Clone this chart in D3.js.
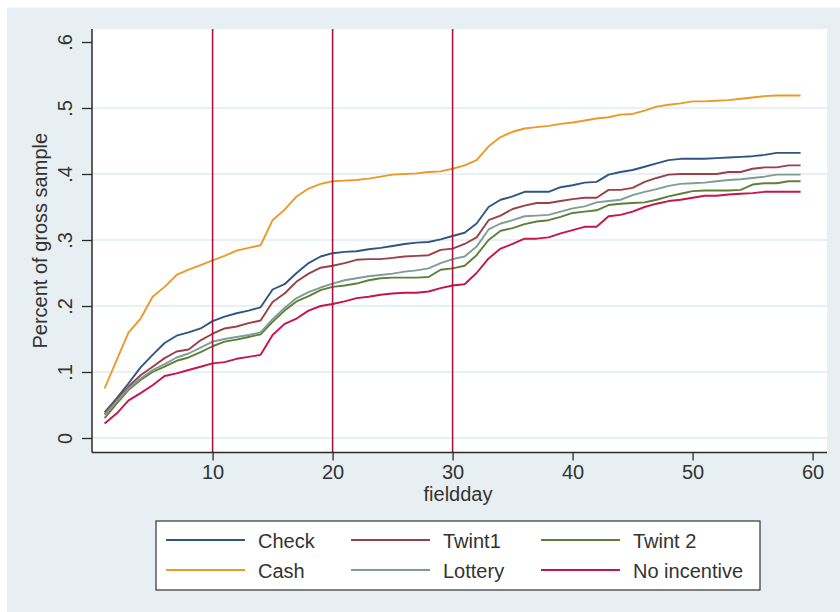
<!DOCTYPE html>
<html>
<head>
<meta charset="utf-8">
<script src="https://cdn.jsdelivr.net/npm/d3@7"></script>
<style>
  body { margin: 0; background: #fff; }
  text { font-family: "Liberation Sans", Arial, sans-serif; fill: #333; }
</style>
</head>
<body>
<div id="chart"></div>
<script>
// fieldday 1..59
const days = d3.range(1, 60);

const check = [0.039, 0.060, 0.083, 0.107, 0.126, 0.144, 0.155, 0.160, 0.166, 0.177,
  0.184, 0.189, 0.193, 0.198, 0.225, 0.233, 0.250, 0.265, 0.275, 0.280,
  0.282, 0.283, 0.286, 0.288, 0.291, 0.294, 0.296, 0.297, 0.301, 0.306,
  0.311, 0.325, 0.350, 0.361, 0.366, 0.373, 0.373, 0.373, 0.380, 0.383,
  0.387, 0.388, 0.399, 0.403, 0.406, 0.411, 0.416, 0.421, 0.423, 0.423,
  0.423, 0.424, 0.425, 0.426, 0.427, 0.429, 0.432, 0.432, 0.432];

const twint1 = [0.036, 0.058, 0.078, 0.095, 0.108, 0.121, 0.131, 0.134, 0.148, 0.158,
  0.166, 0.169, 0.174, 0.178, 0.206, 0.219, 0.237, 0.249, 0.258, 0.261,
  0.265, 0.270, 0.271, 0.271, 0.273, 0.275, 0.276, 0.277, 0.285, 0.287,
  0.294, 0.304, 0.330, 0.337, 0.347, 0.352, 0.356, 0.356, 0.359, 0.362,
  0.364, 0.364, 0.376, 0.376, 0.379, 0.388, 0.394, 0.399, 0.400, 0.400,
  0.400, 0.400, 0.403, 0.403, 0.408, 0.410, 0.410, 0.413, 0.413];

const twint2 = [0.030, 0.052, 0.073, 0.088, 0.100, 0.108, 0.117, 0.122, 0.130, 0.139,
  0.146, 0.149, 0.153, 0.157, 0.176, 0.193, 0.207, 0.215, 0.224, 0.229,
  0.231, 0.234, 0.239, 0.242, 0.243, 0.243, 0.243, 0.244, 0.255, 0.257,
  0.261, 0.277, 0.300, 0.314, 0.318, 0.324, 0.328, 0.330, 0.335, 0.341,
  0.343, 0.345, 0.353, 0.355, 0.356, 0.357, 0.361, 0.366, 0.370, 0.374,
  0.375, 0.375, 0.375, 0.376, 0.384, 0.386, 0.386, 0.389, 0.389];

const cash = [0.075, 0.118, 0.160, 0.181, 0.214, 0.229, 0.247, 0.255, 0.262, 0.269,
  0.276, 0.284, 0.288, 0.292, 0.330, 0.346, 0.366, 0.378, 0.385, 0.389,
  0.390, 0.391, 0.393, 0.396, 0.399, 0.400, 0.401, 0.403, 0.404, 0.408,
  0.413, 0.421, 0.442, 0.456, 0.464, 0.469, 0.471, 0.473, 0.476, 0.478,
  0.481, 0.484, 0.486, 0.490, 0.491, 0.496, 0.502, 0.505, 0.507, 0.510,
  0.510, 0.511, 0.512, 0.514, 0.516, 0.518, 0.519, 0.519, 0.519];

const lottery = [0.035, 0.055, 0.075, 0.090, 0.103, 0.112, 0.122, 0.128, 0.137, 0.146,
  0.150, 0.153, 0.156, 0.160, 0.180, 0.197, 0.212, 0.221, 0.228, 0.234,
  0.239, 0.242, 0.245, 0.247, 0.249, 0.252, 0.254, 0.257, 0.265, 0.271,
  0.275, 0.290, 0.316, 0.325, 0.330, 0.336, 0.337, 0.338, 0.343, 0.348,
  0.351, 0.357, 0.359, 0.361, 0.368, 0.373, 0.377, 0.382, 0.385, 0.386,
  0.387, 0.389, 0.391, 0.392, 0.394, 0.396, 0.399, 0.399, 0.399];

const noIncentive = [0.022, 0.037, 0.057, 0.068, 0.080, 0.094, 0.098, 0.103, 0.108, 0.113,
  0.115, 0.120, 0.123, 0.126, 0.156, 0.173, 0.181, 0.193, 0.200, 0.203,
  0.207, 0.212, 0.214, 0.217, 0.219, 0.220, 0.220, 0.222, 0.227, 0.231,
  0.233, 0.250, 0.272, 0.287, 0.294, 0.302, 0.302, 0.304, 0.310, 0.315,
  0.320, 0.320, 0.336, 0.338, 0.343, 0.350, 0.355, 0.359, 0.361, 0.364,
  0.367, 0.367, 0.369, 0.370, 0.371, 0.373, 0.373, 0.373, 0.373];

const seriesNames = ["Check", "Twint1", "Twint 2", "Cash", "Lottery", "No incentive"];
const seriesValues = [check, twint1, twint2, cash, lottery, noIncentive];
const seriesColors = ["#2f5680", "#9a4048", "#5e7f38", "#eb9a2a", "#7e9d94", "#c4164a"];

const xTicks = [10, 20, 30, 40, 50, 60];
const yTicks = [0, 0.1, 0.2, 0.3, 0.4, 0.5, 0.6];
const yTickLabels = ["0", ".1", ".2", ".3", ".4", ".5", ".6"];
const markerDays = [10, 20, 30];

const W = 840, H = 612;
const plot = { left: 92, right: 827, top: 29, bottom: 452.5 };

const svg = d3.select("#chart").append("svg")
    .attr("width", W)
    .attr("height", H);

// outer background
svg.append("rect")
    .attr("x", 7).attr("y", 7.5)
    .attr("width", W - 7).attr("height", H - 7.5)
    .attr("fill", "#e8eff2");

// plot region
svg.append("rect")
    .attr("x", plot.left).attr("y", plot.top)
    .attr("width", plot.right - plot.left)
    .attr("height", plot.bottom - plot.top)
    .attr("fill", "#fff");

const x = d3.scaleLinear().domain([0, 61.2]).range([plot.left + 0.6, plot.right]);
const y = d3.scaleLinear().domain([0, 0.6]).range([438, 42]);

// grid lines
svg.append("g")
    .selectAll("line")
    .data(yTicks.filter(d => d < 0.6))
    .join("line")
    .attr("x1", plot.left).attr("x2", plot.right)
    .attr("y1", d => y(d)).attr("y2", d => y(d))
    .attr("stroke", "#e1ebef")
    .attr("stroke-width", 1.3);

// series
const line = d3.line()
    .x((d, i) => x(days[i]))
    .y(d => y(d));

svg.append("g")
    .selectAll("path")
    .data(seriesValues)
    .join("path")
    .attr("d", d => line(d))
    .attr("fill", "none")
    .attr("stroke", (d, i) => seriesColors[i])
    .attr("stroke-width", 1.9)
    .attr("stroke-linejoin", "round");

// vertical reference lines
svg.append("g")
    .selectAll("line")
    .data(markerDays)
    .join("line")
    .attr("x1", d => x(d)).attr("x2", d => x(d))
    .attr("y1", plot.top).attr("y2", plot.bottom)
    .attr("stroke", "#a3163f")
    .attr("stroke-width", 1.6);

// y axis
const yAxis = svg.append("g")
    .attr("transform", `translate(${plot.left},0)`)
    .call(d3.axisLeft(y).tickValues(yTicks).tickSize(10).tickFormat((d, i) => yTickLabels[i]));
yAxis.select(".domain")
    .attr("d", `M0,${plot.top}V${plot.bottom}`)
    .attr("stroke", "#2a2a2a").attr("stroke-width", 1.5);
yAxis.selectAll(".tick line").attr("stroke", "#2a2a2a").attr("stroke-width", 1.3);
yAxis.selectAll(".tick text")
    .attr("x", null).attr("dy", null)
    .attr("transform", "translate(-20,0) rotate(-90)")
    .attr("text-anchor", "middle")
    .style("font-size", "20px")
    .style("font-family", "'Liberation Sans', Arial, sans-serif")
    .attr("fill", "#333");

// x axis
const xAxis = svg.append("g")
    .attr("transform", `translate(0,${plot.bottom})`)
    .call(d3.axisBottom(x).tickValues(xTicks).tickSize(8).tickFormat(d3.format("d")));
xAxis.select(".domain")
    .attr("d", `M${plot.left},0H${plot.right}`)
    .attr("stroke", "#2a2a2a").attr("stroke-width", 1.5);
xAxis.selectAll(".tick line").attr("stroke", "#2a2a2a").attr("stroke-width", 1.3);
xAxis.selectAll(".tick text")
    .attr("y", 26).attr("dy", null)
    .style("font-size", "20px")
    .style("font-family", "'Liberation Sans', Arial, sans-serif")
    .attr("fill", "#333");

// axis titles
svg.append("text")
    .attr("transform", `translate(47,${(plot.top + plot.bottom) / 2}) rotate(-90)`)
    .attr("text-anchor", "middle")
    .style("font-size", "20px")
    .text("Percent of gross sample");

svg.append("text")
    .attr("x", 458).attr("y", 501)
    .attr("text-anchor", "middle")
    .style("font-size", "20px")
    .text("fieldday");

// legend
const legend = svg.append("g");
legend.append("rect")
    .attr("x", 156).attr("y", 521)
    .attr("width", 604).attr("height", 69)
    .attr("fill", "#fff")
    .attr("stroke", "#333")
    .attr("stroke-width", 1.2);

const colX = [166, 351, 541];
const rowY = [540, 570];
const items = legend.selectAll("g.item")
    .data(seriesNames)
    .join("g")
    .attr("class", "item")
    .attr("transform", (d, i) => `translate(${colX[i % 3]},${rowY[Math.floor(i / 3)]})`);
items.append("line")
    .attr("x1", 0).attr("x2", 79)
    .attr("stroke", (d, i) => seriesColors[i])
    .attr("stroke-width", 1.9);
items.append("text")
    .attr("x", 92).attr("y", 7.5)
    .style("font-size", "20px")
    .text(d => d);
</script>
</body>
</html>
